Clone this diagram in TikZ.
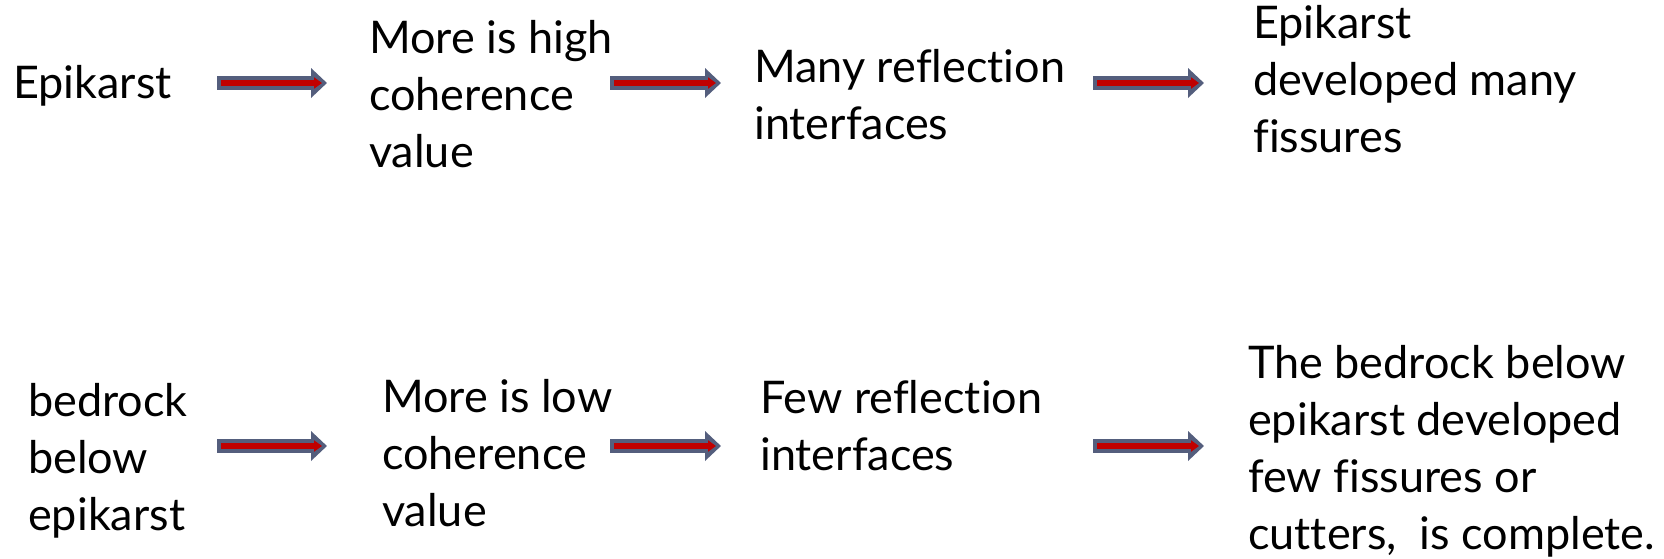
\documentclass[tikz,border=0pt]{standalone}
\usepackage{fontspec}
\setmainfont[Ligatures=NoCommon]{Lato}
\usetikzlibrary{arrows.meta}
\definecolor{slate}{RGB}{84,94,125}
\definecolor{arrowred}{RGB}{192,0,0}
\tikzset{t/.style={font=\fontsize{45}{57}\selectfont, anchor=base west, align=left, inner sep=0pt}}
\tikzset{fat/.style={line width=14pt, slate, -{Triangle[length=16pt,width=29pt]}}}
\tikzset{thin/.style={line width=6pt, arrowred, -{Triangle[length=8pt,width=11pt]}, shorten <=4pt, shorten >=5pt}}

\begin{document}
\begin{tikzpicture}[x=1pt,y=-1pt]
          \useasboundingbox (0,0) rectangle (1664,558);
          % top row (placed at the baseline of the last line)
          \node[t] (epi) at (13,98) {Epikarst};
          \node[t] (high) at (369,167) {More is high\\coherence\\value};
          \node[t] (many) at (754,139) {Many reflection\\interfaces};
          \node[t] (devmany) at (1253,152) {Epikarst\\developed many\\fissures};
          % bottom row
          \node[t] (bed) at (28,530) {bedrock\\below\\epikarst};
          \node[t] (low) at (382,526) {More is low\\coherence\\value};
          \node[t] (few) at (760,470) {Few reflection\\interfaces};
          \node[t] (devfew) at (1248,549) {The bedrock below\\epikarst developed\\few fissures or\\cutters,~ is complete.};
          % arrow ends
          \coordinate (a1s) at (217,83);  \coordinate (a1e) at (327,83);
          \coordinate (a2s) at (610,83);  \coordinate (a2e) at (721,83);
          \coordinate (a3s) at (1093,83); \coordinate (a3e) at (1204,83);
          \coordinate (b1s) at (217,446); \coordinate (b1e) at (327,446);
          \coordinate (b2s) at (610,446); \coordinate (b2e) at (721,446);
          \coordinate (b3s) at (1093,446); \coordinate (b3e) at (1204,446);
          \foreach \s/\e in {a1s/a1e,a2s/a2e,a3s/a3e,b1s/b1e,b2s/b2e,b3s/b3e}{
            \draw[fat] (\s) -- (\e);
            \draw[thin] (\s) -- (\e);
          }
        \end{tikzpicture}
\end{document}
